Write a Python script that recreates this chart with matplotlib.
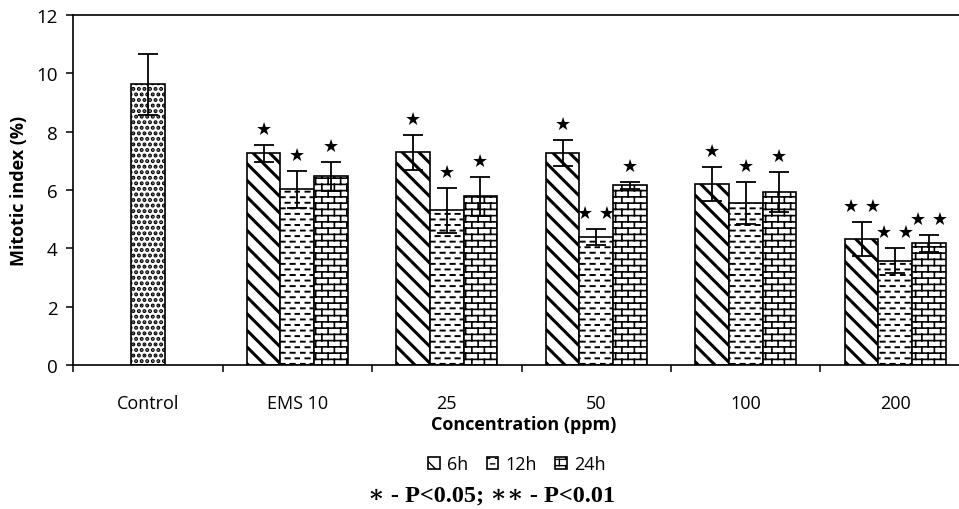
import warnings
import numpy as np
import matplotlib
matplotlib.use('Agg')
import matplotlib.pyplot as plt
import matplotlib.hatch as mhatch
from matplotlib.path import Path

warnings.filterwarnings('ignore')

# данные
categories = ['Control', 'EMS 10', '25', '50', '100', '200']
control_mi = 9.63
control_err = 1.05

mi_6h = [7.26, 7.30, 7.26, 6.22, 4.32]
err_6h = [0.30, 0.60, 0.45, 0.58, 0.59]
mi_12h = [6.02, 5.30, 4.38, 5.56, 3.58]
err_12h = [0.64, 0.78, 0.28, 0.72, 0.42]
mi_24h = [6.47, 5.79, 6.16, 5.94, 4.18]
err_24h = [0.50, 0.67, 0.12, 0.69, 0.29]

sig_6h = ['★', '★', '★', '★', '★ ★']
sig_12h = ['★', '★', '★ ★', '★', '★ ★']
sig_24h = ['★', '★', '★', '★', '★ ★']

series_labels = ['6h', '12h', '24h']


# свои штриховки: короткие штрихи и "кирпичи"
class DashHatch(mhatch.HatchPatternBase):
    def __init__(self, hatch, density):
        n = hatch.count('_')
        self.rows = 18 * n
        self.cols = 10 * n
        self.num_vertices = self.rows * self.cols * 2

    def set_vertices_and_codes(self, vertices, codes):
        k = 0
        for r in range(self.rows):
            y = (r + 0.5) / self.rows
            shift = 0.5 * (r % 2)
            for c in range(self.cols):
                x0 = (c + shift + 0.05) / self.cols
                vertices[k] = (x0, y)
                vertices[k + 1] = (x0 + 0.42 / self.cols, y)
                codes[k] = Path.MOVETO
                codes[k + 1] = Path.LINETO
                k += 2


class BrickHatch(mhatch.HatchPatternBase):
    def __init__(self, hatch, density):
        n = hatch.count('b')
        self.rows = 16 * n
        self.cols = 8 * n
        self.num_vertices = (self.rows * 2 + (self.rows + 1) * self.cols * 2) if n else 0

    def set_vertices_and_codes(self, vertices, codes):
        k = 0
        for r in range(self.rows):
            y = (r + 0.5) / self.rows
            vertices[k] = (0.0, y)
            vertices[k + 1] = (1.0, y)
            codes[k] = Path.MOVETO
            codes[k + 1] = Path.LINETO
            k += 2
        for r in range(-1, self.rows):
            y0 = (r + 0.5) / self.rows
            y1 = (r + 1.5) / self.rows
            shift = 0.5 * (r % 2)
            for c in range(self.cols):
                x = (c + 0.25 + shift) / self.cols
                vertices[k] = (x, y0)
                vertices[k + 1] = (x, y1)
                codes[k] = Path.MOVETO
                codes[k + 1] = Path.LINETO
                k += 2


mhatch._hatch_types.append(DashHatch)
mhatch._hatch_types.append(BrickHatch)

plt.rcParams['font.family'] = ['Open Sans', 'DejaVu Sans']

fig = plt.figure(figsize=(9.59, 5.10), dpi=100)
ax = fig.add_axes([73 / 959, 1 - 366 / 510, 897 / 959, 350 / 510])

w = 0.225
x = np.arange(len(categories))
xt = x[1:]
err_kw = dict(ecolor='black', elinewidth=1.3, capsize=7, capthick=1.3)


def draw_bars(xpos, vals, errs, hatch, hlw, label=None):
    with plt.rc_context({'hatch.linewidth': hlw, 'hatch.color': 'black'}):
        bars = ax.bar(xpos, vals, w, yerr=errs, color='white', edgecolor='black',
                      linewidth=1.2, hatch=hatch, error_kw=err_kw, label=label)
    for b in bars:
        if hasattr(b, 'set_hatch_linewidth'):
            b.set_hatch_linewidth(hlw)
    return bars


draw_bars([x[0]], [control_mi], [control_err], '...', 2.0)
draw_bars(xt - w, mi_6h, err_6h, '\\\\', 2.2, series_labels[0])
draw_bars(xt, mi_12h, err_12h, '_', 1.4, series_labels[1])
draw_bars(xt + w, mi_24h, err_24h, 'b', 1.2, series_labels[2])

# звёздочки значимости
for off, vals, errs, sigs in [(-w, mi_6h, err_6h, sig_6h),
                              (0, mi_12h, err_12h, sig_12h),
                              (w, mi_24h, err_24h, sig_24h)]:
    for xi, v, e, s in zip(xt + off, vals, errs, sigs):
        ax.text(xi, v + e + 0.55, s, ha='center', va='center', fontsize=13,
                family=['DejaVu Sans'], color='black')

ax.set_xlim(-0.5, len(categories) - 0.5)
ax.set_ylim(0, 12)
ax.set_yticks(np.arange(0, 13, 2))
ax.set_xticks(x)
ax.set_xticklabels(categories)
ax.set_xticks(np.arange(-0.5, len(categories)), minor=True)
ax.tick_params(axis='x', which='major', length=0, pad=21, labelsize=13)
ax.tick_params(axis='x', which='minor', length=5, width=1.1, direction='out')
ax.tick_params(axis='y', length=5, width=1.1, pad=6, labelsize=13.5)
for sp in ax.spines.values():
    sp.set_linewidth(1.2)

ax.set_ylabel('Mitotic index (%)', fontsize=13, fontweight='bold')
ax.yaxis.set_label_coords(-0.050, 0.5)
ax.set_xlabel('Concentration (ppm)', fontsize=13, fontweight='bold')
ax.xaxis.set_label_coords(0.502, -0.168)
ax.xaxis.label.set_va('center')

fig.legend(loc='center', bbox_to_anchor=(517 / 959, 1 - 465 / 510), ncol=3,
           frameon=False, fontsize=13, handlelength=0.65, handleheight=0.65,
           handletextpad=0.4, columnspacing=1.0, borderaxespad=0)

fig.text(491 / 959, 1 - 496 / 510, '∗ - P<0.05; ∗∗ - P<0.01', ha='center', va='center',
         fontsize=17.5, fontweight='bold', family=['Liberation Serif', 'DejaVu Serif'])

plt.savefig('out.png', dpi=100)
plt.close()
